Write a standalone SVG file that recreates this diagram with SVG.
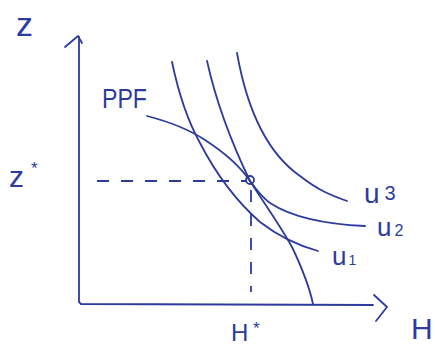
<svg xmlns="http://www.w3.org/2000/svg" width="435" height="347" viewBox="0 0 435 347">
<style>
.ln{fill:none;stroke:#2d3b9e;stroke-width:1.8;stroke-linecap:round;stroke-linejoin:round}
.ds{fill:none;stroke:#2d3b9e;stroke-width:1.8;stroke-dasharray:12 12}
.t{fill:#2d3b9e;font-family:"Liberation Sans",sans-serif}
</style>
<rect width="435" height="347" fill="#fff"/>
<g id="axes">
<path class="ln" d="M79,37 L79,302 L81,304 L373,305"/>
<path class="ln" d="M65,47 L78,36 L82,43"/>
<path class="ln" d="M374,295 L387,307 L376,321"/>
</g>
<g id="connectors">
<path class="ds" d="M97,181 L246,181"/>
<path class="ds" d="M251,190 L251,292"/>
</g>
<g id="ppf">
<path class="ln" d="M147,116 C170,122 190,130 205,140 C225,153 240,166 250,181 C262,200 280,225 292,247 C302,268 309,285 313,304"/>
<text class="t" x="102" y="108" font-size="28" textLength="45" lengthAdjust="spacingAndGlyphs">PPF</text>
</g>
<g id="u1">
<path class="ln" d="M172,62 C180,100 190,125 200,143 C215,172 235,200 260,222 C278,236 300,246 318,251"/>
<text class="t" x="332" y="265"><tspan font-size="26">u</tspan><tspan font-size="14" dx="2">1</tspan></text>
</g>
<g id="u2">
<path class="ln" d="M207,61 C218,110 235,150 250,181 C258,192 263,198 270,203 C290,216 320,224 365,226"/>
<text class="t" x="377" y="236"><tspan font-size="26">u</tspan><tspan font-size="16" dx="3">2</tspan></text>
</g>
<g id="u3">
<path class="ln" d="M237,53 C248,115 270,155 300,176 C318,190 330,195 347,201"/>
<text class="t" x="364" y="203"><tspan font-size="28">u</tspan><tspan font-size="20" dx="5" dy="-3">3</tspan></text>
</g>
<g id="point">
<circle class="ln" cx="250" cy="180" r="4"/>
</g>
<g id="labels">
<text class="t" x="16" y="36" font-size="34">z</text>
<text class="t" x="9" y="187" font-size="30">z</text>
<text class="t" x="31" y="174" font-size="17">*</text>
<text class="t" x="231" y="341" font-size="24">H</text>
<text class="t" x="253" y="334" font-size="17">*</text>
<text class="t" x="411" y="339" font-size="30">H</text>
</g>
</svg>
